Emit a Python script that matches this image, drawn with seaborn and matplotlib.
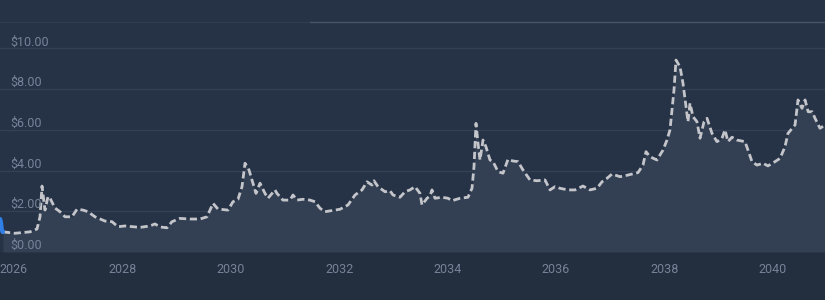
import matplotlib
matplotlib.use("Agg")
import matplotlib.pyplot as plt
import seaborn as sns
import pandas as pd

# ---- data (decimal years, USD) ----
forecast_years = [
    2025.797, 2026.018, 2026.295, 2026.424, 2026.480, 2026.517, 2026.572, 2026.627,
    2026.664, 2026.756, 2026.849, 2026.941, 2027.070, 2027.162, 2027.273, 2027.365,
    2027.494, 2027.679, 2027.808, 2027.919, 2028.048, 2028.196, 2028.325, 2028.509,
    2028.601, 2028.694, 2028.823, 2028.915, 2029.063, 2029.247, 2029.432, 2029.561,
    2029.672, 2029.764, 2029.948, 2030.041, 2030.133, 2030.207, 2030.262, 2030.336,
    2030.410, 2030.465, 2030.539, 2030.631, 2030.686, 2030.815, 2030.852, 2030.963,
    2031.092, 2031.148, 2031.221, 2031.332, 2031.461, 2031.554, 2031.646, 2031.738,
    2031.923, 2032.015, 2032.162, 2032.292, 2032.421, 2032.513, 2032.605, 2032.642,
    2032.716, 2032.845, 2032.937, 2032.993, 2033.122, 2033.214, 2033.306, 2033.399,
    2033.491, 2033.528, 2033.620, 2033.675, 2033.712, 2033.768, 2033.897, 2034.007,
    2034.081, 2034.229, 2034.376, 2034.450, 2034.487, 2034.524, 2034.561, 2034.598,
    2034.653, 2034.708, 2034.782, 2034.838, 2034.930, 2035.022, 2035.114, 2035.207,
    2035.299, 2035.391, 2035.520, 2035.649, 2035.797, 2035.889, 2035.982, 2036.074,
    2036.221, 2036.351, 2036.498, 2036.627, 2036.757, 2036.849, 2036.941, 2037.033,
    2037.181, 2037.328, 2037.513, 2037.605, 2037.661, 2037.734, 2037.863, 2037.974,
    2038.048, 2038.103, 2038.177, 2038.214, 2038.288, 2038.343, 2038.399, 2038.435,
    2038.472, 2038.528, 2038.601, 2038.657, 2038.731, 2038.786, 2038.878, 2038.970,
    2039.063, 2039.118, 2039.173, 2039.247, 2039.339, 2039.487, 2039.542, 2039.616,
    2039.708, 2039.819, 2039.911, 2040.041, 2040.133, 2040.225, 2040.280, 2040.410,
    2040.465, 2040.539, 2040.595, 2040.653, 2040.727, 2040.779, 2040.871, 2040.963,
]
forecast_prices = [
    0.99, 0.92, 0.99, 1.13, 1.73, 3.24, 2.06, 2.72,
    2.65, 2.16, 1.98, 1.73, 1.73, 2.10, 2.06, 1.98,
    1.73, 1.52, 1.49, 1.24, 1.28, 1.24, 1.21, 1.28,
    1.38, 1.23, 1.19, 1.49, 1.65, 1.62, 1.62, 1.73,
    2.39, 2.11, 2.06, 2.47, 2.59, 3.21, 4.36, 4.03,
    3.38, 2.88, 3.38, 2.88, 2.64, 3.05, 2.88, 2.55,
    2.55, 2.80, 2.55, 2.59, 2.55, 2.47, 2.15, 1.98,
    2.06, 2.10, 2.31, 2.80, 3.05, 3.45, 3.29, 3.50,
    3.21, 2.96, 3.01, 2.80, 2.69, 2.96, 3.05, 3.21,
    2.88, 2.31, 2.64, 2.75, 3.05, 2.64, 2.69, 2.64,
    2.52, 2.64, 2.69, 3.13, 4.19, 6.32, 5.34, 4.52,
    5.50, 5.17, 4.52, 4.44, 3.95, 3.87, 4.55, 4.47,
    4.44, 4.03, 3.54, 3.50, 3.54, 3.05, 3.21, 3.13,
    3.05, 3.05, 3.24, 3.05, 3.13, 3.45, 3.62, 3.83,
    3.70, 3.78, 3.90, 4.27, 4.93, 4.68, 4.52, 5.01,
    5.50, 6.00, 7.96, 9.43, 9.10, 8.29, 7.14, 6.40,
    7.31, 6.65, 6.40, 5.59, 6.40, 6.57, 5.83, 5.42,
    5.59, 6.00, 5.42, 5.64, 5.50, 5.42, 5.01, 4.44,
    4.27, 4.36, 4.23, 4.44, 4.60, 5.17, 5.83, 6.24,
    7.47, 7.06, 7.47, 6.89, 6.89, 6.57, 6.08, 6.24,
]
history_years = [2025.745, 2025.760, 2025.775, 2025.790, 2025.797]
history_prices = [1.62, 1.45, 1.10, 0.98, 0.99]

y_ticks = [0, 2, 4, 6, 8, 10]
y_tick_labels = ["$0.00", "$2.00", "$4.00", "$6.00", "$8.00", "$10.00"]
x_ticks = [2026, 2028, 2030, 2032, 2034, 2036, 2038, 2040]
x_tick_labels = ["2026", "2028", "2030", "2032", "2034", "2036", "2038", "2040"]

forecast = pd.DataFrame({"year": forecast_years, "price": forecast_prices})
history = pd.DataFrame({"year": history_years, "price": history_prices})

# ---- style ----
BG = "#263245"
BAND = "#232e3e"
GRID = "#334056"
TXT = "#76849a"

sns.set_theme(style="dark")
plt.rcParams["font.family"] = ["Roboto", "DejaVu Sans"]

fig = plt.figure(figsize=(8.25, 3.0), dpi=100, facecolor=BAND)
ax = fig.add_axes([0, 48 / 300, 1, 252 / 300])
ax.set_facecolor(BG)

ax.set_xlim(2025.742, 2040.963)
ax.set_ylim(0, 12.38)

for t in y_ticks:
    ax.axhline(t, color=GRID, lw=1.0, zorder=1)

ax.fill_between(forecast["year"], forecast["price"], 0, color="#334053", zorder=2, lw=0)
sns.lineplot(data=forecast, x="year", y="price", ax=ax, color="#c3c5ca", lw=2.0,
             linestyle=(0, (2.6, 1.3)), zorder=4)
sns.lineplot(data=history, x="year", y="price", ax=ax, color="#2f7fe6", lw=3.0, zorder=5)

for t, lab in zip(y_ticks, y_tick_labels):
    ax.annotate(lab, xy=(0, t), xycoords=("axes fraction", "data"),
                xytext=(10, 0), textcoords="offset pixels",
                ha="left", va="bottom", color=TXT, fontsize=9, zorder=6)

ax.set_xticks(x_ticks)
ax.set_xticklabels(x_tick_labels, color=TXT, fontsize=9)
ax.tick_params(axis="x", length=0, pad=8)
ax.set_yticks([])
ax.set_xlabel("")
ax.set_ylabel("")
for s in ax.spines.values():
    s.set_visible(False)
ax.grid(False)

# top border line of the plot region
fig.add_artist(plt.Line2D([0, 310 / 825], [1 - 22 / 300, 1 - 22 / 300],
                          transform=fig.transFigure, color="#2f3b4f", lw=1))
fig.add_artist(plt.Line2D([310 / 825, 1], [1 - 22 / 300, 1 - 22 / 300],
                          transform=fig.transFigure, color="#48546a", lw=1))

fig.savefig("out.png", dpi=100, facecolor=BAND)
